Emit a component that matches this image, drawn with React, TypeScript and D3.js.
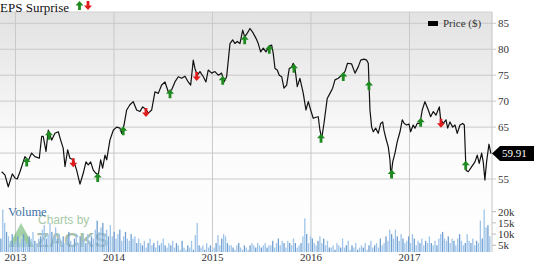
import React from "react";
import * as d3 from "d3";

// Weekly closing price, keyed by fractional year
const priceYears = [
  2012.86, 2012.893, 2012.927, 2012.968, 2012.995, 2013.018, 2013.046, 2013.096, 2013.13, 2013.164,
  2013.198, 2013.242, 2013.266, 2013.282, 2013.31, 2013.333, 2013.368, 2013.401, 2013.435, 2013.459,
  2013.485, 2013.503, 2013.53, 2013.553, 2013.587, 2013.621, 2013.655, 2013.688, 2013.716, 2013.739,
  2013.763, 2013.79, 2013.817, 2013.841, 2013.865, 2013.885, 2013.909, 2013.926, 2013.959, 2013.993,
  2014.027, 2014.061, 2014.078, 2014.102, 2014.129, 2014.162, 2014.196, 2014.23, 2014.264, 2014.292,
  2014.325, 2014.348, 2014.383, 2014.416, 2014.45, 2014.484, 2014.518, 2014.551, 2014.586, 2014.619,
  2014.653, 2014.687, 2014.721, 2014.754, 2014.779, 2014.805, 2014.822, 2014.846, 2014.873, 2014.907,
  2014.934, 2014.957, 2014.992, 2015.025, 2015.059, 2015.093, 2015.117, 2015.144, 2015.178, 2015.205,
  2015.228, 2015.252, 2015.279, 2015.307, 2015.327, 2015.35, 2015.381, 2015.414, 2015.442, 2015.465,
  2015.489, 2015.516, 2015.543, 2015.577, 2015.601, 2015.617, 2015.635, 2015.658, 2015.678, 2015.703,
  2015.726, 2015.753, 2015.78, 2015.804, 2015.82, 2015.838, 2015.861, 2015.888, 2015.922, 2015.949,
  2015.973, 2015.997, 2016.023, 2016.051, 2016.074, 2016.091, 2016.109, 2016.132, 2016.165, 2016.193,
  2016.22, 2016.244, 2016.277, 2016.312, 2016.345, 2016.371, 2016.412, 2016.447, 2016.48, 2016.505,
  2016.538, 2016.566, 2016.582, 2016.592, 2016.599, 2016.616, 2016.633, 2016.657, 2016.683, 2016.708,
  2016.728, 2016.741, 2016.761, 2016.785, 2016.802, 2016.812, 2016.83, 2016.853, 2016.876, 2016.904,
  2016.927, 2016.947, 2016.972, 2016.995, 2017.012, 2017.038, 2017.056, 2017.079, 2017.107, 2017.13,
  2017.157, 2017.191, 2017.215, 2017.242, 2017.269, 2017.303, 2017.317, 2017.343, 2017.371, 2017.388,
  2017.411, 2017.439, 2017.462, 2017.485, 2017.513, 2017.54, 2017.557, 2017.574, 2017.597, 2017.632,
  2017.665, 2017.688, 2017.708, 2017.733, 2017.749, 2017.766, 2017.783, 2017.807, 2017.827,
];
const priceValues = [
  56.4, 55.8, 53.5, 56.0, 55.2, 55.0, 56.4, 59.3, 58.5, 60.0,
  59.3, 59.0, 63.2, 63.2, 60.3, 64.4, 62.5, 63.8, 64.1, 62.5,
  60.9, 57.4, 60.6, 59.0, 58.7, 56.7, 54.0, 56.1, 58.3, 57.7,
  58.3, 56.7, 56.1, 55.8, 58.7, 57.1, 59.6, 58.7, 62.5, 64.4,
  65.0, 64.8, 63.8, 65.4, 68.3, 69.3, 69.9, 68.3, 68.0, 68.9,
  68.4, 67.7, 68.3, 71.8, 71.5, 73.1, 73.7, 71.8, 72.2, 73.7,
  74.7, 74.4, 74.8, 73.7, 73.1, 77.9, 76.3, 75.0, 75.7, 74.7,
  73.7, 76.0, 75.4, 75.7, 75.0, 75.4, 73.7, 74.7, 81.1, 81.8,
  81.1, 81.5, 81.1, 83.7, 82.4, 83.0, 84.0, 83.1, 82.1, 81.1,
  79.5, 80.2, 79.5, 80.6, 80.8, 79.2, 76.3, 76.0, 75.0, 74.7,
  72.5, 73.1, 76.3, 76.6, 77.3, 76.3, 72.8, 74.4, 71.5, 68.3,
  69.9, 68.3, 66.7, 66.9, 67.0, 64.4, 62.8, 65.7, 70.5, 71.5,
  72.5, 74.1, 74.4, 75.0, 75.7, 77.3, 77.2, 75.4, 76.6, 77.9,
  78.1, 77.9, 77.3, 72.0, 68.3, 65.0, 64.1, 64.8, 63.8, 65.7,
  66.0, 64.4, 62.8, 61.2, 58.7, 55.4, 58.3, 60.0, 62.2, 64.1,
  66.4, 65.7, 65.4, 65.6, 64.1, 65.4, 64.8, 65.7, 65.7, 68.3,
  69.9, 68.3, 67.0, 68.0, 67.3, 68.9, 66.4, 65.7, 66.4, 64.8,
  66.0, 65.0, 65.4, 63.8, 65.4, 65.7, 65.4, 56.7, 56.4, 57.4,
  58.3, 59.6, 58.0, 60.0, 58.3, 54.8, 58.3, 61.7, 59.91,
];

// Quarterly earnings releases: true = beat (green up), false = miss (red down)
const epsYears = [
  2013.114, 2013.34, 2013.587, 2013.835, 2014.094, 2014.325, 2014.569, 2014.84, 2015.104, 2015.327,
  2015.577, 2015.827, 2016.102, 2016.328, 2016.589, 2016.819, 2017.114, 2017.32, 2017.571,
];
const epsBeat = [
  true, true, false, true, true, false, true, false, true, true,
  true, true, true, true, true, true, true, false, true,
];

// Weekly volume in thousands of shares, first week starting at volumeStartYear
const volumeStartYear = 2012.852;
const volumeK = [
  8, 21, 15, 11, 9, 7, 10, 6,
  7, 9, 6, 8, 10, 7, 6, 9, 8, 11, 7, 6, 8,
  9, 12, 14, 8, 10, 15, 11, 9, 13, 8, 10,
  7, 9, 6, 8, 11, 7, 5, 8, 10, 6, 9, 7, 8, 6, 10, 7, 9, 8,
  12, 16, 11, 13, 15, 10, 12, 9,
  14, 9, 11, 8, 10, 12, 7, 9, 11, 8, 7, 10, 8, 9, 6, 8,
  6, 5, 7, 4, 6, 8, 5, 6, 4, 7, 5, 6, 8, 5, 4, 6, 5, 7, 4, 6, 5,
  3, 7, 4, 3, 5, 4, 7, 3,
  9.6, 15, 5,
  4, 5, 3, 6, 4,
  5, 3, 4, 6, 9.6, 5, 8, 10, 9, 6, 5,
  5, 4, 3, 5, 6, 4, 3, 5, 4, 3,
  5, 6, 5, 4, 6, 5, 4, 5, 6, 4, 5,
  5, 7, 4, 6, 8, 5, 7, 6, 4, 7, 6, 5, 8, 6, 4, 5,
  6, 9, 17, 10, 6,
  9, 8, 6, 5, 7, 9, 6, 8, 5, 7, 4,
  4, 5, 3, 6, 5, 4, 8, 4, 5, 7, 3, 5, 4, 6, 3, 4,
  5, 4, 6, 3, 5, 7, 4, 5, 6, 4, 8, 5, 6, 9, 7, 12, 10, 8,
  12, 9, 7, 10, 8, 6, 7, 9, 6, 10, 8, 5, 7, 6, 8, 5, 7, 6, 9, 6, 5, 7, 5, 8,
  10, 11, 8, 7, 9,
  6, 8, 7, 5, 8, 10, 7, 5, 6, 10, 7,
  6, 8, 5, 7, 6,
  16, 8, 21, 13, 14, 9,
];

const priceTicks = [55, 60, 65, 70, 75, 80, 85];
const volumeTicks = [5, 10, 15, 20];
const yearTicks = [2013, 2014, 2015, 2016, 2017];
const lastPrice = 59.91;

const W = 534;
const H = 262;
const plotLeft = 0;
const plotRight = 492;
const plotTop = 12;
const plotBottom = 252;
const serif = "'Liberation Serif', 'DejaVu Serif', serif";
const sans = "'Liberation Sans', Arial, sans-serif";

const x = d3.scaleLinear().domain([2012.843, 2017.838]).range([plotLeft, plotRight]);
const y = d3.scaleLinear().domain([55, 85]).range([179, 23.3]);
const yVol = d3.scaleLinear().domain([0, 20]).range([256.5, 211.7]);

const pricePoints: [number, number][] = priceYears.map((t, i) => [t, priceValues[i]]);
const priceAt = (t: number) => {
  const i = d3.bisector((d: [number, number]) => d[0]).left(pricePoints, t);
  if (i <= 0) return pricePoints[0][1];
  if (i >= pricePoints.length) return pricePoints[pricePoints.length - 1][1];
  const [t0, v0] = pricePoints[i - 1];
  const [t1, v1] = pricePoints[i];
  return v0 + ((v1 - v0) * (t - t0)) / (t1 - t0);
};

const line = d3
  .line<[number, number]>()
  .x((d) => x(d[0]))
  .y((d) => y(d[1]));

function Arrow({ cx, cy, up }: { cx: number; cy: number; up: boolean }) {
  // Arrow pointing up or down, centred on (cx, cy)
  const p = up
    ? "M0,-4.5 L4,0 L1.4,0 L1.4,4.5 L-1.4,4.5 L-1.4,0 L-4,0 Z"
    : "M0,4.5 L4,0 L1.4,0 L1.4,-4.5 L-1.4,-4.5 L-1.4,0 L-4,0 Z";
  return <path d={p} transform={`translate(${cx},${cy})`} fill={up ? "#1f8a1f" : "#e01b1b"} />;
}

export default function App() {
  const weekStep = 7 / 365.25;
  const barW = 1.3;
  const tagY = y(lastPrice);
  // the last-price tag hides any tick label it sits on
  const visiblePriceTicks = priceTicks.filter((v) => Math.abs(y(v) - tagY) > 10);
  return (
    <svg
      width={W}
      height={H}
      style={{ position: "absolute", left: 0, top: 0, background: "#fff" }}
      fontFamily={serif}
    >
      <defs>
        <linearGradient id="bg" x1="0" y1="0" x2="0" y2="1">
          <stop offset="0" stopColor="#e2e2e2" />
          <stop offset="0.55" stopColor="#fbfbfb" />
          <stop offset="1" stopColor="#ffffff" />
        </linearGradient>
        <linearGradient id="logo" x1="0" y1="0" x2="1" y2="1">
          <stop offset="0" stopColor="#7cc47c" />
          <stop offset="1" stopColor="#2e8b3e" />
        </linearGradient>
      </defs>

      <rect x={plotLeft} y={plotTop} width={plotRight - plotLeft} height={plotBottom - plotTop} fill="url(#bg)" />
      <line x1={plotLeft} x2={plotRight} y1={plotTop} y2={plotTop} stroke="#d2d2d2" />

      {/* price grid */}
      {priceTicks.map((v) => (
        <line key={v} x1={plotLeft} x2={plotRight + 4} y1={y(v)} y2={y(v)} stroke="#c9c9c9" strokeWidth={1} />
      ))}
      {yearTicks.map((t) => (
        <line key={t} x1={x(t)} x2={x(t)} y1={plotTop} y2={plotBottom} stroke="#c9c9c9" strokeWidth={1} />
      ))}
      <line x1={plotRight} x2={plotRight} y1={plotTop} y2={plotBottom} stroke="#c4c4c4" />

      {/* watermark */}
      <g opacity={0.55}>
        <path d="M8,247 L21,223 L34,247 Z" fill="url(#logo)" />
        <path d="M14,247 L21,234 L28,247 Z" fill="#a8dca8" opacity={0.6} />
        <text x={38} y={224} fontFamily={sans} fontSize={12} fill="#5c9f5c">
          Charts by
        </text>
        <text x={36} y={247} fontFamily={sans} fontSize={21} fontWeight="bold" fill="#5f8f6a">
          ZACKS
        </text>
      </g>

      {/* volume */}
      {volumeK.map((v, i) => {
        const t = volumeStartYear + i * weekStep;
        const top = Math.min(yVol(v), plotBottom - 0.5);
        return (
          <rect
            key={i}
            x={x(t) - barW / 2}
            y={top}
            width={barW}
            height={plotBottom - top}
            fill={i % 3 === 0 ? "#6f9fd0" : "#9ec4ea"}
          />
        );
      })}
      <text x={8} y={216} fontSize={12.5} fill="#3f74a8">
        Volume
      </text>

      {/* price line */}
      <path d={line(pricePoints) || ""} fill="none" stroke="#111" strokeWidth={1.2} strokeLinejoin="round" />

      {/* earnings surprises */}
      {epsYears.map((t, i) => (
        <Arrow key={t} cx={x(t)} cy={y(priceAt(t)) + 3} up={epsBeat[i]} />
      ))}

      {/* right axis */}
      {visiblePriceTicks.map((v) => (
        <text key={v} x={498} y={y(v)} dy="0.35em" fontSize={11} fill="#333">
          {v}
        </text>
      ))}
      {volumeTicks.map((v) => (
        <g key={v}>
          <line x1={plotRight} x2={plotRight + 4} y1={yVol(v)} y2={yVol(v)} stroke="#bbb" />
          <text x={498} y={yVol(v)} dy="0.35em" fontSize={11} fill="#333">
            {v}k
          </text>
        </g>
      ))}

      {/* bottom axis */}
      {yearTicks.map((t) => (
        <text key={t} x={x(t)} y={261} textAnchor="middle" fontSize={11} fill="#333">
          {t}
        </text>
      ))}

      {/* last price tag */}
      <path
        d={`M${plotRight},${tagY} L${plotRight + 8},${tagY - 7.5} L${W},${tagY - 7.5} L${W},${tagY + 7.5} L${plotRight + 8},${tagY + 7.5} Z`}
        fill="#000"
      />
      <text x={502} y={tagY} dy="0.35em" fontSize={11} fill="#fff">
        {lastPrice.toFixed(2)}
      </text>

      {/* legend */}
      <rect x={428} y={21} width={10} height={5} fill="#000" />
      <text x={443} y={23.5} dy="0.35em" fontSize={11} fill="#333">
        Price ($)
      </text>

      {/* title */}
      <text x={0} y={11.5} fontSize={13} fill="#111">
        EPS Surprise
      </text>
      <Arrow cx={79.5} cy={5.5} up={true} />
      <Arrow cx={88} cy={5.5} up={false} />
    </svg>
  );
}
